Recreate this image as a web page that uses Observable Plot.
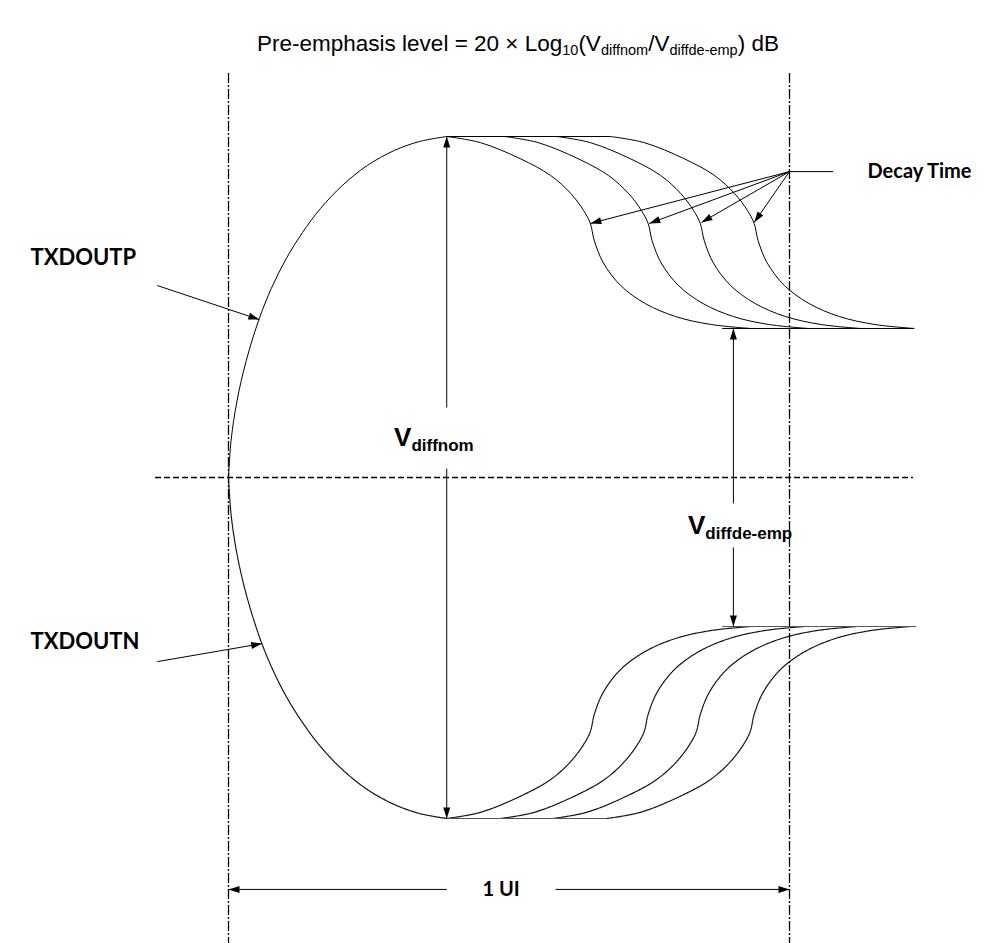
<!DOCTYPE html>
<html><head><meta charset="utf-8">
<script src="https://cdn.jsdelivr.net/npm/d3@7"></script>
<script src="https://cdn.jsdelivr.net/npm/@observablehq/plot@0.6"></script>
<style>
body{margin:0;background:#fff;}
#title{height:70px;box-sizing:border-box;padding-top:31px;padding-left:33px;text-align:center;font:22.5px "Liberation Sans",Arial,sans-serif;line-height:26px;color:#000;white-space:nowrap}
#title sub{font-size:14.5px;vertical-align:-4px;line-height:0}
</style></head><body>
<div id="title">Pre-emphasis level = 20 × Log<sub>10</sub>(V<sub>diffnom</sub>/V<sub>diffde-emp</sub>) dB</div>
<div id="chart"></div>
<script>
// time in UI (0 = start of bit, 1 = end), voltage normalised to the nominal peak
const risingT = [0,0.0046,0.0153,0.0317,0.0549,0.0763,0.1030,0.1319,0.1640,0.2029,0.2474,0.2955,0.3405,0.389];
const risingV = [0,0.1085,0.2258,0.3431,0.4663,0.5543,0.6422,0.7185,0.7889,0.8563,0.9150,0.9589,0.9853,1];
const decayT = [0.389,0.449,0.520,0.574,0.610,0.633,0.645,0.652,0.668,0.699,0.743,0.797,0.859,0.930];
const decayV = [1,0.982,0.935,0.886,0.833,0.783,0.745,0.695,0.630,0.563,0.510,0.472,0.449,0.437];
const decayShiftP = [0,0.103,0.196,0.292];
const decayShiftN = [0,0.096,0.189,0.285];
const peakT = 0.389;
const deEmpV = 0.437;
const deEmpStartT = 0.88, traceEndT = 1.222;
const midlineT = [-0.130, 1.221];
const boundaryT = [0, 1];
const boundaryV = [1.185, -1.367];

const arrowFromT = [0.389,0.389,0.900,0.900,1.0,1.0,1.0,1.0,-0.127,-0.127,0.389,0.583];
const arrowFromV = [0.205,0.026,-0.076,-0.205,0.897,0.897,0.897,0.897,0.563,-0.540,-1.208,-1.208];
const arrowToT   = [0.389,0.389,0.900,0.900,0.645,0.750,0.843,0.937,0.055,0.060,0,1];
const arrowToV   = [1,-1,0.437,-0.437,0.745,0.745,0.748,0.748,0.463,-0.487,-1.208,-1.208];
const decayLabelLineT = [1.0, 1.078], decayLabelV = 0.897;

const signalLabels = ["TXDOUTP","TXDOUTN"];
const signalLabelT = [-0.353,-0.353];
const signalLabelV = [0.645,-0.481];
const decayLabel = "Decay Time", decayLabelT = 1.139;
const uiLabel = "1 UI", uiLabelT = 0.486, uiLabelV = -1.208;
const vLabelSub = ["diffnom","diffde-emp"];
const vLabelT = [0.326,0.850];
const vLabelV = [0.117,-0.141];

// tables
const rising = risingT.map((t,i)=>({t, v:risingV[i]}));
const fallingN = rising.map(d=>({t:d.t, v:-d.v}));
const decayP = decayShiftP.flatMap((s,k)=>decayT.map((t,i)=>({k, t:t+s, v:decayV[i]})));
const decayN = decayShiftN.flatMap((s,k)=>decayT.map((t,i)=>({k, t:t+s, v:-decayV[i]})));
const flatP = [{t1:peakT,t2:peakT+decayShiftP[3],v:1},{t1:deEmpStartT,t2:traceEndT,v:deEmpV}];
const flatN = [{t1:peakT,t2:peakT+decayShiftN[3],v:-1},{t1:deEmpStartT,t2:traceEndT+0.004,v:-deEmpV}];
const arrows = arrowFromT.map((t,i)=>({t1:t,v1:arrowFromV[i],t2:arrowToT[i],v2:arrowToV[i]}));
const signals = signalLabels.map((s,i)=>({s, t:signalLabelT[i], v:signalLabelV[i]}));
const vLabels = vLabelSub.map((s,i)=>({s, t:vLabelT[i], v:vLabelV[i]}));

const X = {domain:[0,1], range:[228,789]};
const Y = {domain:[-1,1], range:[748,66]};
const sx = d3.scaleLinear(X.domain, X.range), sy = d3.scaleLinear(Y.domain, Y.range);
arrows.forEach(a=>{
  const dx = sx(a.t2)-sx(a.t1), dy = sy(a.v2)-sy(a.v1);
  a.angle = Math.atan2(dx,-dy)*180/Math.PI;
});
const tri = {draw(ctx,l,r){ctx.moveTo(-r,0);ctx.lineTo(0,-l);ctx.lineTo(r,0);ctx.closePath();}};

const labelFont = "Lato, 'Open Sans', sans-serif";
const vFont = "'Liberation Sans', Arial, sans-serif";

const chart = Plot.plot({
  width:1003, height:873, margin:0,
  x:{...X, axis:null}, y:{...Y, axis:null},
  style:{background:"white", overflow:"visible"},
  marks:[
    Plot.ruleX(boundaryT,{y1:boundaryV[0], y2:boundaryV[1], stroke:"black", strokeWidth:1.3, strokeDasharray:"10,2,2,2"}),
    Plot.ruleY([0],{x1:midlineT[0], x2:midlineT[1], stroke:"black", strokeWidth:1.3, strokeDasharray:"6,3"}),
    Plot.line(rising,{x:"t", y:"v", curve:"catmull-rom", stroke:"black", strokeWidth:1}),
    Plot.line(fallingN,{x:"t", y:"v", curve:"catmull-rom", stroke:"#111", strokeWidth:1.2, strokeDasharray:"1.6,0.8"}),
    Plot.line(decayP,{x:"t", y:"v", z:"k", curve:"catmull-rom", stroke:"black", strokeWidth:1}),
    Plot.line(decayN,{x:"t", y:"v", z:"k", curve:"catmull-rom", stroke:"#111", strokeWidth:1.2, strokeDasharray:"1.6,0.8"}),
    Plot.link(flatP,{x1:"t1", x2:"t2", y1:"v", y2:"v", stroke:"black", strokeWidth:1}),
    Plot.link(flatN,{x1:"t1", x2:"t2", y1:"v", y2:"v", stroke:"#555", strokeWidth:1}),
    Plot.link(arrows,{x1:"t1", y1:"v1", x2:"t2", y2:"v2", stroke:"black", strokeWidth:1}),
    Plot.link([0],{x1:decayLabelLineT[0], x2:decayLabelLineT[1], y1:decayLabelV, y2:decayLabelV, stroke:"black", strokeWidth:1}),
    Plot.vector(arrows,{x:"t2", y:"v2", rotate:"angle", length:11, r:3.5, anchor:"end", shape:tri, fill:"black", stroke:"none"}),
    Plot.text(signals,{x:"t", y:"v", text:"s", textAnchor:"start", fontFamily:labelFont, fontWeight:"bold", fontSize:22, fill:"black"}),
    Plot.text([decayLabel],{x:decayLabelT, y:decayLabelV, text:d=>d, textAnchor:"start", fontFamily:labelFont, fontWeight:"bold", fontSize:20, fill:"black"}),
    Plot.text([uiLabel],{x:uiLabelT, y:uiLabelV, text:d=>d, textAnchor:"middle", fontFamily:labelFont, fontWeight:"bold", fontSize:20, fill:"black"}),
    Plot.text(vLabels,{x:"t", y:"v", text:()=>"V", textAnchor:"end", fontFamily:vFont, fontWeight:"bold", fontSize:26, fill:"black"}),
    Plot.text(vLabels,{x:"t", y:"v", text:"s", textAnchor:"start", dy:8, fontFamily:vFont, fontWeight:"bold", fontSize:17, fill:"black"})
  ]
});
document.getElementById("chart").appendChild(chart);
</script>
</body></html>
